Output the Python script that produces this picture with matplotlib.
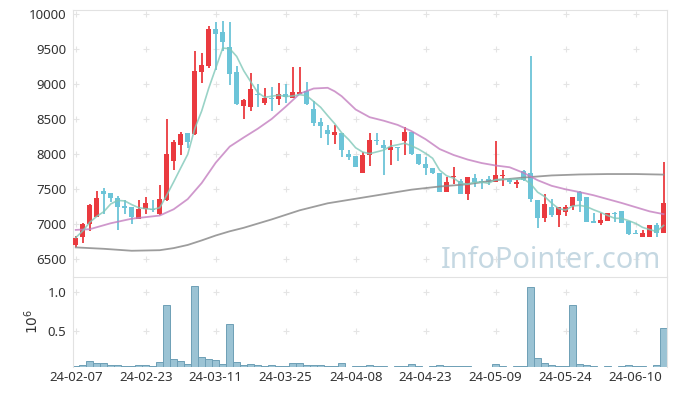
import matplotlib
matplotlib.use("Agg")
import matplotlib.pyplot as plt
import numpy as np
import pandas as pd

plt.rcParams['font.family'] = ['Noto Sans', 'DejaVu Sans']

# daily OHLC (KRW), 2024-02-07 .. 2024-06-14
opens = [6700, 6815, 7000, 7110, 7475, 7440, 7370, 7265, 7245, 7070,
         7220, 7225, 7150, 7350, 7910, 8135, 8300, 8290, 9180, 9265,
         9790, 9745, 9530, 9170, 8690, 8680, 8860, 8740, 8805, 8795,
         8860, 8810, 8860, 8900, 8645, 8465, 8345, 8275, 8305, 8000,
         7975, 7740, 7990, 8205, 8130, 8065, 8100, 8195, 8315, 8000,
         7855, 7800, 7740, 7465, 7670, 7615, 7440, 7655, 7625, 7650,
         7610, 7690, 7645, 7580, 7760, 7730, 7345, 7095, 7245, 7135,
         7170, 7255, 7460, 7385, 7045, 7025, 7050, 7160, 7190, 7050,
         6880, 6815, 6815, 6990, 6880]
highs = [6830, 7020, 7290, 7470, 7515, 7450, 7410, 7350, 7250, 7350,
         7390, 7350, 7560, 8500, 8200, 8320, 8310, 9470, 9450, 9835,
         9885, 9910, 9885, 9265, 8785, 9160, 9005, 8945, 8955, 9015,
         9005, 9245, 9245, 9035, 8755, 8515, 8425, 8420, 8310, 8055,
         7980, 8035, 8310, 8300, 8205, 8205, 8100, 8395, 8315, 8010,
         7965, 7800, 7740, 7680, 7815, 7650, 7670, 7720, 7645, 7690,
         8190, 7775, 7660, 7630, 7770, 9405, 7350, 7435, 7360, 7245,
         7275, 7385, 7480, 7385, 7165, 7155, 7165, 7170, 7195, 7050,
         6920, 6915, 6990, 7020, 7895]
lows = [6680, 6740, 6910, 7100, 7145, 7320, 6915, 7145, 7000, 7070,
        7145, 7180, 7140, 7340, 7770, 7990, 8090, 8275, 9015, 9230,
        9205, 9470, 8990, 8700, 8500, 8620, 8670, 8705, 8620, 8705,
        8730, 8805, 8855, 8705, 8400, 8230, 8135, 8145, 7965, 7915,
        7815, 7735, 7840, 8130, 7705, 7850, 7900, 7990, 7990, 7850,
        7705, 7720, 7460, 7460, 7575, 7435, 7345, 7540, 7500, 7560,
        7610, 7545, 7580, 7525, 7620, 7315, 6945, 7040, 7110, 6965,
        7125, 7205, 7170, 7040, 7020, 6990, 7045, 7040, 7020, 6850,
        6855, 6815, 6815, 6815, 6880]
closes = [6810, 7000, 7275, 7370, 7440, 7370, 7250, 7240, 7105, 7220,
          7300, 7200, 7360, 8000, 8175, 8290, 8170, 9190, 9275, 9790,
          9720, 9610, 9150, 8720, 8775, 8930, 8845, 8800, 8795, 8860,
          8825, 8890, 8890, 8720, 8450, 8405, 8295, 8320, 8065, 7965,
          7820, 7990, 8205, 8190, 8095, 8100, 8090, 8315, 8000, 7860,
          7800, 7740, 7465, 7600, 7690, 7440, 7670, 7600, 7610, 7610,
          7700, 7700, 7600, 7605, 7635, 7360, 7095, 7290, 7135, 7245,
          7250, 7385, 7340, 7040, 7025, 7060, 7165, 7145, 7025, 6865,
          6865, 6880, 6990, 6880, 7305]
volumes = [40000, 50000, 105000, 75000, 75000, 50000, 50000, 40000, 40000, 50000,
           50000, 40000, 88000, 835000, 127000, 100000, 62000, 1079000, 153000, 127000,
           114000, 62000, 583000, 88000, 50000, 62000, 50000, 40000, 50000, 40000,
           40000, 75000, 75000, 50000, 50000, 50000, 40000, 40000, 75000, 20000,
           40000, 40000, 55000, 40000, 40000, 20000, 40000, 40000, 62000, 40000,
           20000, 40000, 50000, 40000, 40000, 40000, 40000, 20000, 20000, 20000,
           62000, 40000, 20000, 40000, 40000, 1066000, 140000, 75000, 50000, 40000,
           40000, 835000, 62000, 50000, 40000, 20000, 40000, 20000, 40000, 50000,
           40000, 40000, 20000, 50000, 530000]

# 20- and 60-day moving averages (index, value)
ma20_idx = [0, 2, 5, 8, 12, 14, 16, 18, 20, 22, 24, 26, 28, 30, 32, 34, 36, 37,
            38, 40, 42, 44, 46, 48, 50, 52, 54, 56, 58, 60, 62, 64, 66, 68, 70,
            72, 74, 76, 78, 80, 82, 84]
ma20_val = [6920, 6930, 7015, 7080, 7125, 7215, 7360, 7590, 7880, 8110, 8240,
            8365, 8505, 8680, 8865, 8940, 8950, 8900, 8830, 8640, 8530, 8480,
            8420, 8330, 8215, 8075, 7990, 7925, 7875, 7840, 7815, 7735, 7630,
            7550, 7500, 7460, 7415, 7360, 7305, 7245, 7185, 7145]
ma60_idx = [0, 4, 8, 12, 14, 16, 18, 20, 22, 24, 28, 32, 36, 40, 44, 48, 52,
            56, 60, 64, 68, 72, 76, 80, 84]
ma60_val = [6670, 6650, 6622, 6630, 6660, 6705, 6770, 6840, 6900, 6950, 7070,
            7200, 7300, 7365, 7430, 7495, 7540, 7572, 7630, 7668, 7698, 7712,
            7718, 7718, 7710]

tick_idx = [0, 10, 20, 30, 40, 50, 60, 70, 80]
tick_labels = ['24-02-07', '24-02-23', '24-03-11', '24-03-25', '24-04-08',
               '24-04-23', '24-05-09', '24-05-24', '24-06-10']

UP = '#ea3a3f'
DOWN = '#6cc4d8'
TXT = '#333333'
FRAME = '#e2e2e2'

o = np.array(opens); h = np.array(highs); l = np.array(lows); c = np.array(closes)
x = np.arange(len(c))
up = c >= o
cols = np.where(up, UP, DOWN)
ma5 = pd.Series(c).rolling(5, min_periods=1).mean()

W, H = 677, 396
fig = plt.figure(figsize=(W / 100, H / 100), dpi=100)
ax = fig.add_axes([73.3 / W, 1 - 276 / H, (666.7 - 73.3) / W, (276 - 10) / H])
axv = fig.add_axes([73.3 / W, 1 - 366.7 / H, (666.7 - 73.3) / W, (366.7 - 277.3) / H])

xlim = (-0.35, 84.45)

# price panel
for yv in range(6500, 10001, 500):
    ax.plot(tick_idx, [yv] * len(tick_idx), ls='none', marker='+', ms=5,
            mew=0.8, color='#e4e4e4', zorder=0)
ax.vlines(x, l, h, colors=cols, lw=1.3, zorder=2)
body = np.maximum(np.abs(c - o), 14)
ax.bar(x, body, bottom=np.minimum(o, c), width=0.68, color=cols, zorder=3)
ax.plot(ma60_idx, ma60_val, color='#8c8c8c', lw=1.3, alpha=0.85, zorder=4)
ax.plot(ma20_idx, ma20_val, color='#c47fc0', lw=1.3, alpha=0.8, zorder=4)
ax.plot(x, ma5, color='#80c8b9', lw=1.2, alpha=0.8, zorder=4)
ax.text(661 / W, 1 - 268 / H, 'InfoPointer.com', transform=fig.transFigure,
        ha='right', va='baseline', fontsize=20.8, color='#c5d8e2', zorder=1)

ax.set_xlim(*xlim)
ax.set_ylim(10000 - (276 - 14.3) * 500 / 35, 10000 + 4.3 * 500 / 35)
ax.set_yticks(range(6500, 10001, 500))
ax.set_yticklabels([str(v) for v in range(6500, 10001, 500)])
ax.set_xticks([])
ax.tick_params(axis='y', length=0, pad=5, labelsize=9.5, labelcolor=TXT)
for s in ax.spines.values():
    s.set_color(FRAME)
ax.spines['bottom'].set_visible(False)

# volume panel
for yv in [0.5e6, 1.0e6]:
    axv.plot(tick_idx, [yv] * len(tick_idx), ls='none', marker='+', ms=5,
             mew=0.8, color='#e4e4e4', zorder=0)
axv.bar(x, volumes, width=1.0, color='#9bc3d4', edgecolor='#6e9fb6',
        linewidth=0.7, zorder=2)
axv.set_xlim(*xlim)
axv.set_ylim(0.031e6, 1.196e6)
axv.set_yticks([0.5e6, 1.0e6])
axv.set_yticklabels(['0.5', '1.0'])
axv.set_xticks(tick_idx)
axv.set_xticklabels(tick_labels)
axv.tick_params(length=0, labelsize=9.5, labelcolor=TXT)
axv.tick_params(axis='y', pad=5)
axv.tick_params(axis='x', pad=3)
for s in axv.spines.values():
    s.set_color(FRAME)
axv.spines['bottom'].set_visible(False)
fig.text(33 / W, 1 - 321 / H, r'$10^6$', rotation=90, ha='center', va='center',
         fontsize=10, color=TXT)

fig.savefig('out.png', dpi=100, facecolor='white')
